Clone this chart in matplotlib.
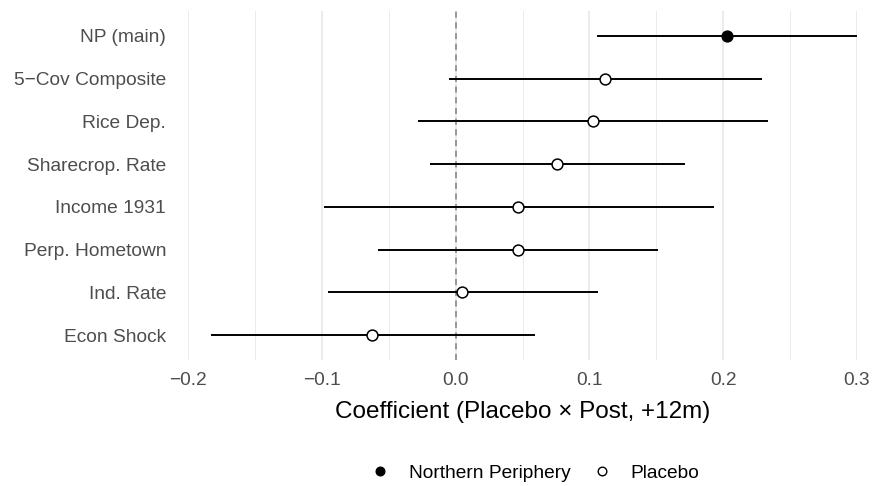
import matplotlib
matplotlib.use("Agg")
import matplotlib.pyplot as plt
from matplotlib.lines import Line2D

plt.rcParams['font.family'] = ['Liberation Sans', 'DejaVu Sans']

labels = ["NP (main)", "5\u2212Cov Composite", "Rice Dep.", "Sharecrop. Rate",
          "Income 1931", "Perp. Hometown", "Ind. Rate", "Econ Shock"]
estimates = [0.2025, 0.112, 0.1025, 0.0755, 0.047, 0.0463, 0.0048, -0.0625]
lower = [0.1055, -0.005, -0.028, -0.0195, -0.0983, -0.0583, -0.0955, -0.183]
upper = [0.302, 0.2293, 0.2338, 0.1718, 0.1933, 0.1515, 0.1063, 0.059]
groups = ["Northern Periphery", "Placebo", "Placebo", "Placebo",
          "Placebo", "Placebo", "Placebo", "Placebo"]
xticks = [-0.2, -0.1, 0.0, 0.1, 0.2, 0.3]
xticklabels = ["\u22120.2", "\u22120.1", "0.0", "0.1", "0.2", "0.3"]
minor_ticks = [-0.15, -0.05, 0.05, 0.15, 0.25]

fig = plt.figure(figsize=(8.73, 4.86), dpi=100)
ax = fig.add_axes([188/873, 126/486, 669/873, 349/486])

n = len(labels)
ypos = [n - i for i in range(n)]

for x in minor_ticks:
    ax.axvline(x, color="#EBEBEB", lw=0.7, zorder=0)
for x in xticks:
    ax.axvline(x, color="#EBEBEB", lw=1.4, zorder=0)

ax.axvline(0, color="#7F7F7F", lw=1.1, ls=(0, (4, 3)), zorder=1)

for y, est, lo, hi, g in zip(ypos, estimates, lower, upper, groups):
    ax.plot([lo, hi], [y, y], color="black", lw=1.4, zorder=2, solid_capstyle="butt")
    if g == "Northern Periphery":
        ax.plot(est, y, "o", ms=7.8, mfc="black", mec="black", mew=1.0, zorder=3)
    else:
        ax.plot(est, y, "o", ms=7.8, mfc="white", mec="black", mew=1.1, zorder=3)

ax.set_xlim(-0.2, 0.3)
ax.set_ylim(1 - 0.585, n + 0.585)
ax.set_yticks(ypos)
ax.set_yticklabels(labels, fontsize=13.8, color="#4D4D4D")
ax.set_xticks(xticks)
ax.set_xticklabels(xticklabels, fontsize=13.8, color="#4D4D4D")
ax.tick_params(length=0)
ax.tick_params(axis="x", pad=8.5)
ax.tick_params(axis="y", pad=15.8)
for s in ax.spines.values():
    s.set_visible(False)
ax.set_xlabel("Coefficient (Placebo \u00d7 Post, +12m)", fontsize=17.5, labelpad=9)

handles = [Line2D([], [], marker="o", ls="", ms=6.2, mfc="black", mec="black"),
           Line2D([], [], marker="o", ls="", ms=6.2, mfc="white", mec="black")]
fig.legend(handles, ["Northern Periphery", "Placebo"], loc="center",
           bbox_to_anchor=(534/873, 1 - 473/486), ncol=2, frameon=False,
           fontsize=13.8, handletextpad=0.9, columnspacing=1.0, handlelength=1.2)

fig.savefig("out.png", dpi=100, facecolor="white")
